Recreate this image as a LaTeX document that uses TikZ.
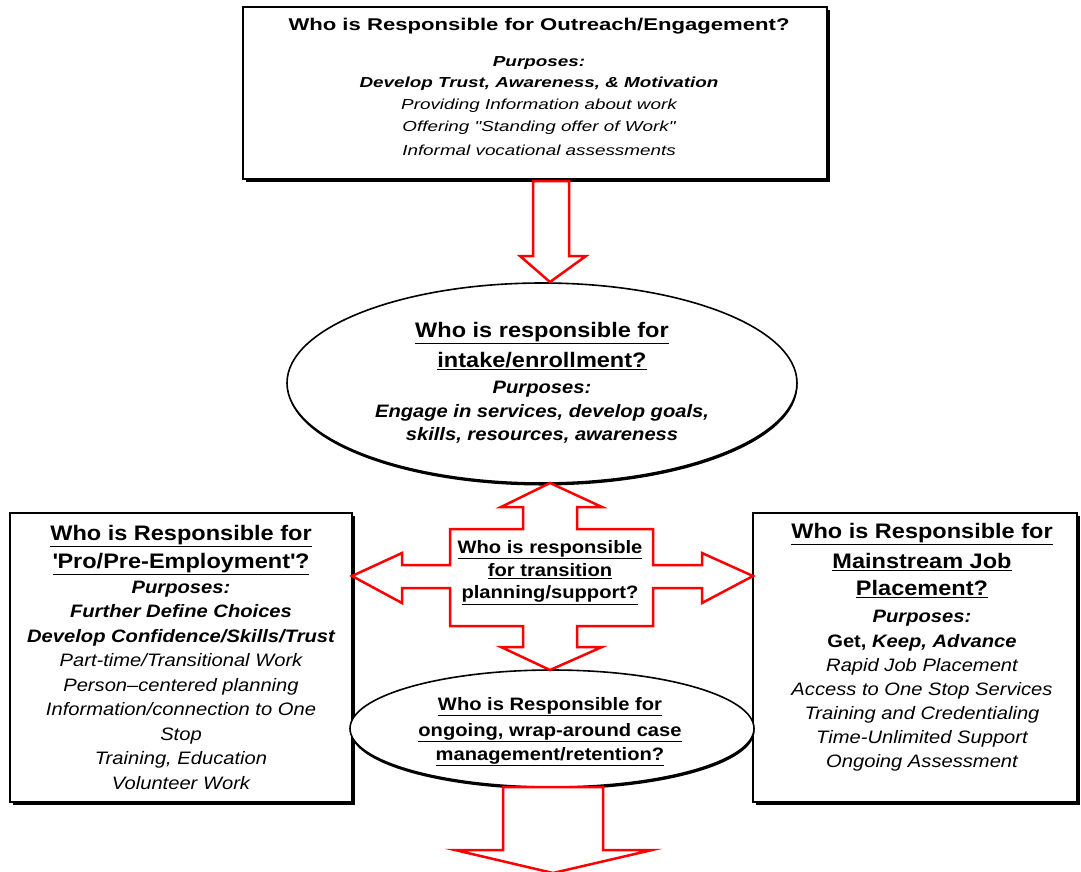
\documentclass[tikz,border=0pt]{standalone}
\usepackage{fontspec}
\setmainfont{Liberation Sans}[FakeStretch=1.12]
\newfontfamily\topff{Liberation Sans}[FakeStretch=1.3]
\usetikzlibrary{shapes.geometric,shadows}
\begin{document}
\begin{tikzpicture}[x=1pt,y=-1pt,
  box/.style={draw=black, line width=1.3pt, fill=white, inner sep=0pt,
    drop shadow={shadow xshift=2.5pt, shadow yshift=-3pt, fill=black, opacity=1}},
  oval/.style={ellipse, draw=black, line width=1.6pt, fill=white, inner sep=0pt,
    drop shadow={shadow xshift=0.5pt, shadow yshift=-2.5pt, fill=black, opacity=1}},
  blockarrow/.style={draw=red, line width=2.5pt, fill=white, line join=miter},
  txt/.style={inner sep=0pt, anchor=north, align=center, text=black}
]
\useasboundingbox (0,0) rectangle (1081,871);
\clip (0,0) rectangle (1081,871);
\fill[white] (0,0) rectangle (1081,871);

% boxes and ovals
\node[box, minimum width=584pt, minimum height=172pt] (outreach) at (535,93) {};
\node[box, minimum width=342pt, minimum height=289pt] (pro) at (181,657.5) {};
\node[box, minimum width=324pt, minimum height=289pt] (mainstream) at (915,657.5) {};
\node[oval, minimum width=510pt, minimum height=200pt] (intake) at (542,383) {};
\node[oval, minimum width=404pt, minimum height=117pt] (ongoing) at (552,728.5) {};

% top arrow
\draw[blockarrow] (533,181) -- (533,256) -- (520,256) -- (550,282) -- (586,256) -- (569,256) -- (569,181) -- cycle;

% four-way arrow
\draw[blockarrow] (550,483) -- (602,507) -- (577,507) -- (577,529) -- (653,529) -- (653,565)
  -- (702,565) -- (702,553) -- (753,576) -- (702,603) -- (702,588) -- (653,588) -- (653,626)
  -- (577,626) -- (577,647) -- (602,647) -- (550,670) -- (501,647) -- (523,647) -- (523,626)
  -- (450,626) -- (450,588) -- (402,588) -- (402,603) -- (352,576) -- (402,553) -- (402,565)
  -- (450,565) -- (450,529) -- (523,529) -- (523,507) -- (501,507) -- cycle;

% bottom arrow
\draw[blockarrow] (503,787) -- (503,850) -- (455,850) -- (553,873) -- (652,850) -- (603,850) -- (603,787) -- cycle;

% texts
\node[txt, font=\topff\fontsize{14.5}{22}\selectfont] (outreachT) at (539,17.7)
  {{\fontsize{17}{22}\selectfont\bfseries Who is Responsible for Outreach/Engagement?}\\[14pt]
   {\bfseries\itshape Purposes:}\\[-1pt]
   {\bfseries\itshape Develop Trust, Awareness, \& Motivation}\\
   {\itshape Providing Information about work}\\
   {\itshape Offering "Standing offer of Work"}\\[2pt]
   {\itshape Informal vocational assessments}};

\node[txt, font=\fontsize{18}{24}\selectfont] (intakeT) at (542,322)
  {{\fontsize{21}{28}\selectfont\bfseries\underline{Who is responsible for}}\\[6pt]
   {\fontsize{21}{28}\selectfont\bfseries\underline{intake/enrollment?}}\\[2pt]
   {\bfseries\itshape Purposes:}\\
   {\bfseries\itshape Engage in services, develop goals,}\\[-1pt]
   {\bfseries\itshape skills, resources, awareness}};

\node[txt, font=\fontsize{18}{24.5}\selectfont] (proT) at (181,525)
  {{\fontsize{21}{28}\selectfont\bfseries\underline{Who is Responsible for}}\\[3.5pt]
   {\fontsize{21}{28}\selectfont\bfseries\underline{\textquotesingle Pro/Pre-Employment\textquotesingle ?}}\\[0.5pt]
   {\bfseries\itshape Purposes:}\\
   {\bfseries\itshape Further Define Choices}\\
   {\bfseries\itshape Develop Confidence/Skills/Trust}\\
   {\itshape Part-time/Transitional Work}\\
   {\itshape Person--centered planning}\\
   {\itshape Information/connection to One}\\
   {\itshape Stop}\\
   {\itshape Training, Education}\\
   {\itshape Volunteer Work}};

\node[txt, font=\fontsize{18}{24}\selectfont] (mainstreamT) at (922,523)
  {{\fontsize{21}{28}\selectfont\bfseries\underline{Who is Responsible for}}\\[6pt]
   {\fontsize{21}{28}\selectfont\bfseries\underline{Mainstream Job}}\\[3pt]
   {\fontsize{21}{28}\selectfont\bfseries\underline{Placement?}}\\[3pt]
   {\bfseries\itshape Purposes:}\\[1pt]
   {\bfseries Get, \itshape Keep, Advance}\\
   {\itshape Rapid Job Placement}\\
   {\itshape Access to One Stop Services}\\
   {\itshape Training and Credentialing}\\
   {\itshape Time-Unlimited Support}\\
   {\itshape Ongoing Assessment}};

\node[txt, font=\fontsize{18}{23.5}\selectfont\bfseries] (transitionT) at (550,540)
  {\underline{Who is responsible}\\
   \underline{for transition}\\[-1.5pt]
   \underline{planning/support?}};

\node[txt, font=\fontsize{18}{25}\selectfont\bfseries] (ongoingT) at (550,697)
  {\underline{Who is Responsible for}\\[1pt]
   \underline{ongoing, wrap-around case}\\[-1pt]
   \underline{management/retention?}};
\end{tikzpicture}
\end{document}
